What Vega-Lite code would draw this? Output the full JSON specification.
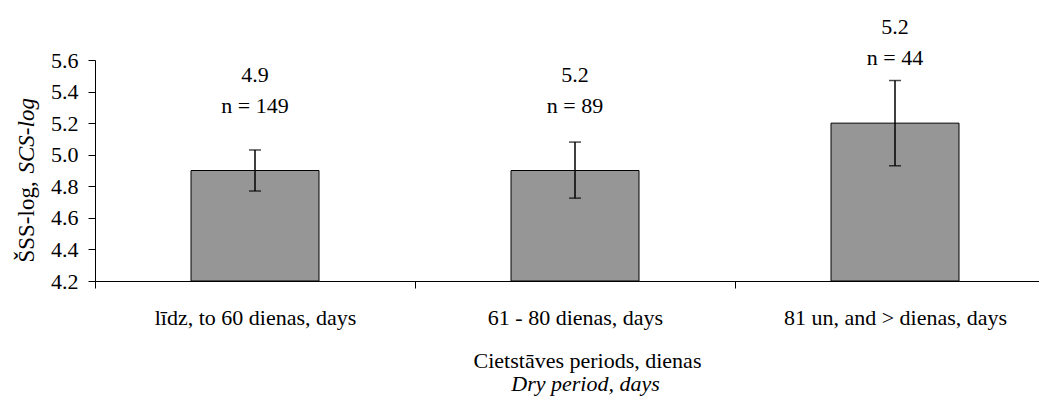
{
  "$schema": "https://vega.github.io/schema/vega-lite/v6.json",
  "width": 944,
  "height": 221,
  "autosize": "none",
  "padding": {"left": 95, "top": 60, "right": 0, "bottom": 120},
  "background": "white",
  "config": {
    "view": {"stroke": null},
    "axis": {
      "grid": false,
      "domainColor": "black",
      "tickColor": "black",
      "labelColor": "black",
      "titleColor": "black",
      "labelFontSize": 22,
      "titleFontSize": 22,
      "titleFontWeight": "normal",
      "labelLimit": 0
    }
  },
  "data": {
    "values": [
      {"cat": "līdz, to 60 dienas, days", "mean": 4.9, "lo": 4.77, "hi": 5.03, "value": "4.9", "n": "n = 149"},
      {"cat": "61 - 80 dienas, days", "mean": 4.9, "lo": 4.725, "hi": 5.08, "value": "5.2", "n": "n = 89"},
      {"cat": "81 un, and > dienas, days", "mean": 5.2, "lo": 4.93, "hi": 5.47, "value": "5.2", "n": "n = 44"}
    ]
  },
  "resolve": {"axis": {"x": "independent", "y": "independent"}},
  "layer": [
    {
      "mark": {"type": "bar", "fill": "#969696", "stroke": "black", "strokeWidth": 1, "width": {"band": 0.4}},
      "encoding": {
        "x": {
          "field": "cat", "type": "nominal", "sort": null,
          "scale": {"range": [0, 960], "paddingInner": 0, "paddingOuter": 0},
          "axis": {
            "orient": "bottom", "tickBand": "extent", "tickSize": 7, "labelPadding": 19, "labelAngle": 0,
            "labelFont": "Liberation Serif", "titleFont": "Liberation Serif",
            "title": "Cietstāves periods, dienas", "titleX": 492, "titleY": 79,
            "titleAlign": "center", "titleBaseline": "middle"
          }
        },
        "y": {
          "field": "mean", "type": "quantitative",
          "scale": {"domain": [4.2, 5.6], "zero": false, "nice": false},
          "axis": {
            "orient": "left", "values": [4.2, 4.4, 4.6, 4.8, 5.0, 5.2, 5.4, 5.6], "format": ".1f",
            "tickSize": 7, "labelPadding": 10,
            "labelFont": "Liberation Serif", "titleFont": "Liberation Serif",
            "title": "ŠSS-log,", "titleFontSize": 23, "titleAngle": -90, "titleAlign": "left", "titleBaseline": "middle",
            "titleX": -69, "titleY": 202
          }
        },
        "y2": {"datum": 4.2}
      }
    },
    {
      "mark": {"type": "rule", "color": "black", "strokeWidth": 1.5},
      "encoding": {
        "x": {
          "field": "cat", "type": "nominal", "sort": null,
          "axis": {
            "orient": "bottom", "labels": false, "ticks": false, "domain": false,
            "titleFont": "Liberation Serif",
            "title": "Dry period, days", "titleFontStyle": "italic", "titleX": 490, "titleY": 102,
            "titleAlign": "center", "titleBaseline": "middle"
          }
        },
        "y": {
          "field": "lo", "type": "quantitative",
          "axis": {
            "orient": "left", "labels": false, "ticks": false, "domain": false,
            "titleFont": "Liberation Serif",
            "title": "SCS-log", "titleFontStyle": "italic", "titleFontSize": 23, "titleAngle": -90, "titleAlign": "left", "titleBaseline": "middle",
            "titleX": -69, "titleY": 113
          }
        },
        "y2": {"field": "hi"}
      }
    },
    {
      "mark": {"type": "tick", "color": "black", "size": 12, "thickness": 1.5},
      "encoding": {
        "x": {"field": "cat", "type": "nominal", "sort": null, "axis": null},
        "y": {"field": "hi", "type": "quantitative", "axis": null}
      }
    },
    {
      "mark": {"type": "tick", "color": "black", "size": 12, "thickness": 1.5},
      "encoding": {
        "x": {"field": "cat", "type": "nominal", "sort": null, "axis": null},
        "y": {"field": "lo", "type": "quantitative", "axis": null}
      }
    },
    {
      "mark": {"type": "text", "color": "black", "font": "Liberation Serif", "fontSize": 22, "baseline": "middle", "dy": -96},
      "encoding": {
        "x": {"field": "cat", "type": "nominal", "sort": null, "axis": null},
        "y": {"field": "mean", "type": "quantitative", "axis": null},
        "text": {"field": "value"}
      }
    },
    {
      "mark": {"type": "text", "color": "black", "font": "Liberation Serif", "fontSize": 22, "baseline": "middle", "dy": -65},
      "encoding": {
        "x": {"field": "cat", "type": "nominal", "sort": null, "axis": null},
        "y": {"field": "mean", "type": "quantitative", "axis": null},
        "text": {"field": "n"}
      }
    }
  ]
}
